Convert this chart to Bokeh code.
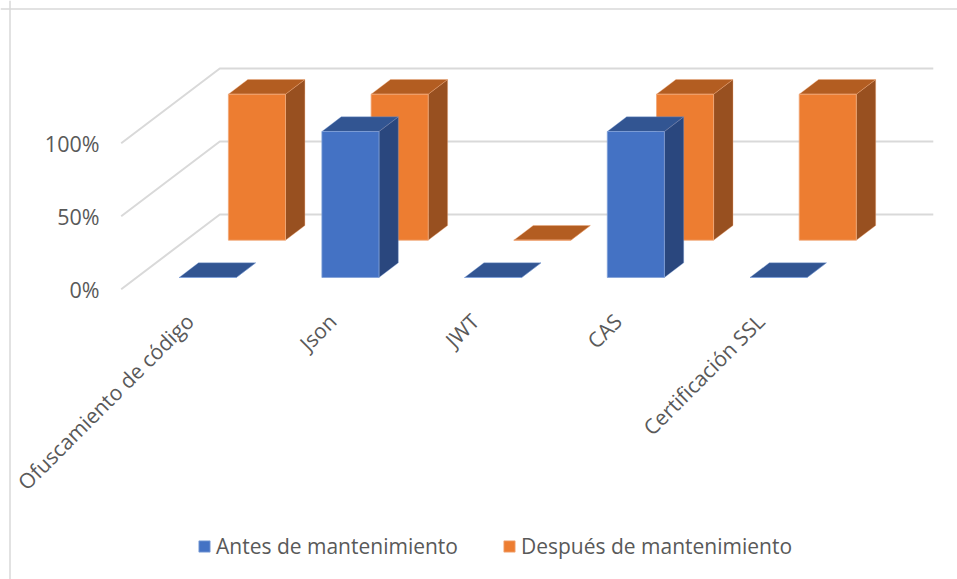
from bokeh.embed import file_html
from bokeh.resources import INLINE
from bokeh.plotting import figure
from bokeh.models import (Range1d, LinearAxis, FixedTicker, Legend, LegendItem, Span)

categories = ["Ofuscamiento de código", "Json", "JWT", "CAS", "Certificación SSL"]
antes = [0, 100, 0, 100, 0]
despues = [100, 100, 0, 100, 100]
value_ticks = [0, 50, 100]
value_labels = ["0%", "50%", "100%"]
series_names = ["Antes de mantenimiento", "Después de mantenimiento"]

FONT = "Open Sans"
TEXT = "#595959"
GRID = "#D9D9D9"

W, H = 957, 579
X0_PX, CAT_PX = 120.7, 142.7      # pixel of category 0 on the front edge, pixels per category
Y0_PX, VAL_PX = 288.7, 1.46       # pixel of value 0 on the front edge, pixels per percent
DEPTH_X, DEPTH_Y = 98.6 / CAT_PX, 74.7 / VAL_PX  # shift of one unit of depth, in data units


def x_of(px):
    return (px - X0_PX) / CAT_PX


def y_of(px):
    return (Y0_PX - px) / VAL_PX


def project(cat, depth, val):
    return cat + depth * DEPTH_X, val + depth * DEPTH_Y


p = figure(width=W, height=H, output_backend="svg", toolbar_location=None,
           x_range=Range1d(x_of(0), x_of(W)),
           y_range=Range1d(y_of(H), y_of(0)),
           x_axis_location=None, y_axis_location=None,
           min_border=0, min_border_left=0, min_border_right=0, min_border_top=0, min_border_bottom=0)
p.grid.visible = False
p.outline_line_color = None
p.background_fill_color = "white"

# chart frame (top and left edges only)
p.add_layout(Span(location=x_of(9.5), dimension="height", line_color=GRID, line_width=1.5))
p.add_layout(Span(location=y_of(8.5), dimension="width", line_color=GRID, line_width=1.5))

# gridlines: along the floor side, then along the back wall
n = len(categories)
gx, gy = [], []
for t in value_ticks:
    a = project(0, 0, t)
    b = project(0, 1, t)
    c = project(n, 1, t)
    gx.append([a[0], b[0], c[0]])
    gy.append([a[1], b[1], c[1]])
p.multi_line(gx, gy, line_color=GRID, line_width=2)

BAR_FRAC, BAR_W = 0.298, 0.40
SERIES = [
    dict(vals=despues, d0=0.656, d1=0.853, front="#ED7D31", side="#985020", top="#B35D21", edge="#F0A878"),
    dict(vals=antes, d0=0.157, d1=0.353, front="#4472C4", side="#2A477E", top="#325592", edge="#7F9FD8"),
]

fronts = {}
for s in SERIES:
    fx, fy, sx, sy, tx, ty = [], [], [], [], [], []
    for i, v in enumerate(s["vals"]):
        l, r = i + BAR_FRAC, i + BAR_FRAC + BAR_W
        d0, d1 = s["d0"], s["d1"]
        pts = [project(l, d0, 0), project(r, d0, 0), project(r, d0, v), project(l, d0, v)]
        fx.append([q[0] for q in pts]); fy.append([q[1] for q in pts])
        pts = [project(r, d0, 0), project(r, d1, 0), project(r, d1, v), project(r, d0, v)]
        sx.append([q[0] for q in pts]); sy.append([q[1] for q in pts])
        pts = [project(l, d0, v), project(r, d0, v), project(r, d1, v), project(l, d1, v)]
        tx.append([q[0] for q in pts]); ty.append([q[1] for q in pts])
    p.patches(sx, sy, fill_color=s["side"], line_color=s["edge"], line_width=0.6, line_alpha=0.6)
    p.patches(tx, ty, fill_color=s["top"], line_color=s["edge"], line_width=0.6, line_alpha=0.6)
    fronts[s["front"]] = p.patches(fx, fy, fill_color=s["front"], line_color=s["edge"], line_width=0.8)

# value axis, placed inside the frame
yaxis = LinearAxis(fixed_location=x_of(107), ticker=FixedTicker(ticks=value_ticks),
                   major_label_overrides=dict(zip(value_ticks, value_labels)),
                   axis_line_color=None, major_tick_line_color=None, minor_tick_line_color=None,
                   major_label_text_font=FONT, major_label_text_font_size="21.5px",
                   major_label_text_color=TEXT, major_label_standoff=2)
p.add_layout(yaxis, "left")

# category axis, placed inside the frame
cat_ticks = [i + 0.48 for i in range(n)]
xaxis = LinearAxis(fixed_location=y_of(309), ticker=FixedTicker(ticks=cat_ticks),
                   major_label_overrides=dict(zip(cat_ticks, categories)),
                   major_label_orientation=0.785398,
                   axis_line_color=None, major_tick_line_color=None, minor_tick_line_color=None,
                   major_label_text_font=FONT, major_label_text_font_size="21px",
                   major_label_text_color=TEXT, major_label_standoff=2)
p.add_layout(xaxis, "below")

legend = Legend(items=[LegendItem(label=series_names[0], renderers=[fronts["#4472C4"]]),
                       LegendItem(label=series_names[1], renderers=[fronts["#ED7D31"]])],
                orientation="horizontal", location=(197, 19),
                glyph_width=14, glyph_height=14, label_standoff=5, spacing=44, padding=0, margin=0,
                border_line_color=None, background_fill_alpha=0,
                label_text_font=FONT, label_text_font_size="21px", label_text_color=TEXT)
p.add_layout(legend)

open("out.html", "w").write(file_html(p, INLINE))
